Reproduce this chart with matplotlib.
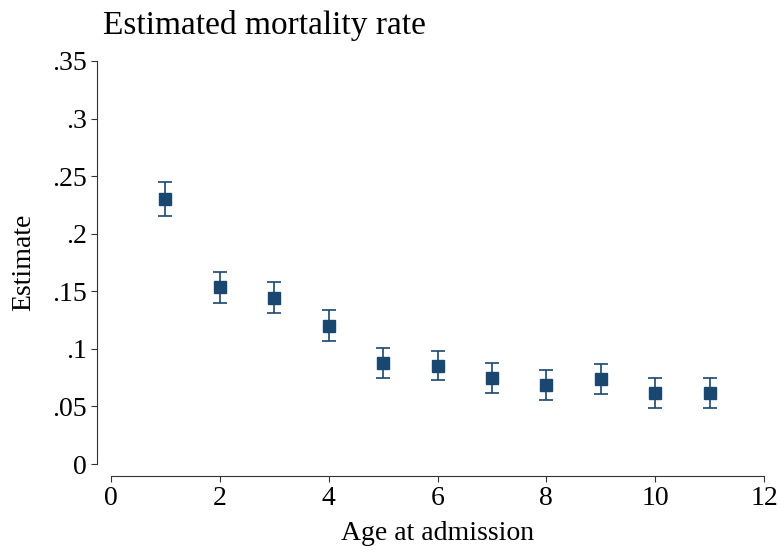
import matplotlib.pyplot as plt
import numpy as np

# Estimated mortality rate by age at admission
age = [1, 2, 3, 4, 5, 6, 7, 8, 9, 10, 11]
estimate = [0.230, 0.154, 0.144, 0.120, 0.088, 0.085, 0.075, 0.069, 0.074, 0.062, 0.062]
ci_low = [0.215, 0.140, 0.131, 0.107, 0.075, 0.073, 0.062, 0.056, 0.061, 0.049, 0.049]
ci_high = [0.245, 0.167, 0.158, 0.134, 0.101, 0.098, 0.088, 0.082, 0.087, 0.075, 0.075]

yticks = [0, 0.05, 0.1, 0.15, 0.2, 0.25, 0.3, 0.35]
ytick_labels = ['0', '.05', '.1', '.15', '.2', '.25', '.3', '.35']
xticks = [0, 2, 4, 6, 8, 10, 12]

plt.rcParams['font.family'] = ['Liberation Serif', 'DejaVu Serif']
navy = '#1a476f'

fig = plt.figure(figsize=(7.78, 5.5), dpi=100)
ax = fig.add_axes([111/778, 86/550, 653/778, 403/550])

est = np.array(estimate)
yerr = [est - np.array(ci_low), np.array(ci_high) - est]
ax.errorbar(age, est, yerr=yerr, fmt='s', color=navy, ecolor=navy,
            markersize=8, capsize=5, elinewidth=1.2, capthick=1.2)

ax.set_xlim(0, 12)
ax.set_ylim(0, 0.35)
ax.set_xticks(xticks)
ax.set_yticks(yticks)
ax.set_yticklabels(ytick_labels)

ax.spines['top'].set_visible(False)
ax.spines['right'].set_visible(False)
ax.spines['left'].set_position(('outward', 10))
ax.spines['bottom'].set_position(('outward', 8.5))
for s in ['left', 'bottom']:
    ax.spines[s].set_color('#333333')
ax.tick_params(labelsize=20, color='#333333', length=4.5, pad=3)

ax.set_xlabel('Age at admission', fontsize=20, labelpad=7)
ax.set_ylabel('Estimate', fontsize=20, labelpad=11)
fig.text(103/778, 1 - 34/550, 'Estimated mortality rate', fontsize=24, ha='left')

plt.savefig('out.png', dpi=100)
